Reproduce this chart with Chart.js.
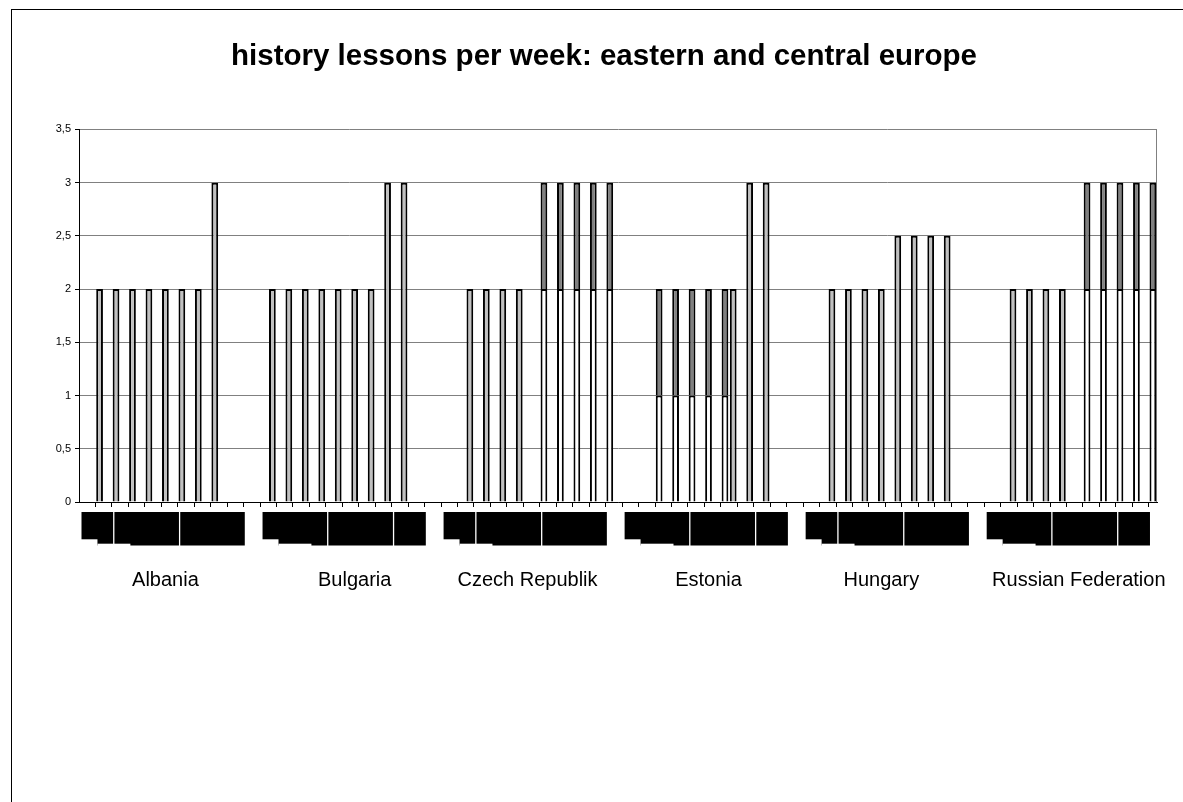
<!DOCTYPE html>
<html>
<head>
<meta charset="utf-8">
<title>history lessons per week: eastern and central europe</title>
<script src="https://cdn.jsdelivr.net/npm/chart.js@4.4.1/dist/chart.umd.min.js"></script>
<style>
  html, body { margin: 0; padding: 0; background: #fff; overflow: hidden; }
  #wrap { position: absolute; left: 0; top: 0; width: 1183px; height: 802px; }
  #frame { position: absolute; left: 11px; top: 9px; width: 1171px; height: 792px;
           border-left: 1px solid #000; border-top: 1px solid #000; pointer-events: none; }
</style>
</head>
<body>
<div id="wrap"><canvas id="chart"></canvas></div>
<div id="frame"></div>
<script>
const _ = null;

// Countries, each one gets 22 narrow columns on the x axis (last one 21)
const countries = ['Albania', 'Bulgaria', 'Czech Republik', 'Estonia', 'Hungary', 'Russian Federation'];

// lessons per week - plain (grey) columns
const albaniaGray  = [_,_,2,_,2,_,2,_,2,_,2,_,2,_,2,_,3,_,_,_,_,_];
const bulgariaGray = [_,2,_,2,_,2,_,2,_,2,_,2,_,2,_,3,_,3,_,_,_,_];
const czechGray    = [_,_,_,2,_,2,_,2,_,2,_,_,_,_,_,_,_,_,_,_,_,_];
const estoniaGray  = [_,_,_,_,_,_,_,_,_,_,_,_,_,2,_,3,_,3,_,_,_,_];
const hungaryGray  = [_,_,_,2,_,2,_,2,_,2,_,2.5,_,2.5,_,2.5,_,2.5,_,_,_,_];
const russiaGray   = [_,_,_,2,_,2,_,2,_,2,_,_,_,_,_,_,_,_,_,_,_];

// split columns - lower (white) part
const czechLower   = [_,_,_,_,_,_,_,_,_,_,_,_,2,_,2,_,2,_,2,_,2,_];
const estoniaLower = [_,_,_,_,1,_,1,_,1,_,1,_,1,_,_,_,_,_,_,_,_,_];
const russiaLower  = [_,_,_,_,_,_,_,_,_,_,_,_,2,_,2,_,2,_,2,_,2];

// split columns - upper (dark) part
const czechUpper   = [_,_,_,_,_,_,_,_,_,_,_,_,1,_,1,_,1,_,1,_,1,_];
const estoniaUpper = [_,_,_,_,1,_,1,_,1,_,1,_,1,_,_,_,_,_,_,_,_,_];
const russiaUpper  = [_,_,_,_,_,_,_,_,_,_,_,_,1,_,1,_,1,_,1,_,1];

const emptyGroup = new Array(22).fill(_);

const grayData  = [].concat(albaniaGray, bulgariaGray, czechGray, estoniaGray, hungaryGray, russiaGray);
const lowerData = [].concat(emptyGroup, emptyGroup, czechLower, estoniaLower, emptyGroup, russiaLower);
const upperData = [].concat(emptyGroup, emptyGroup, czechUpper, estoniaUpper, emptyGroup, russiaUpper);

const groupSizes = [22, 22, 22, 22, 22, 21];
const labels = [];
countries.forEach((c, i) => { for (let k = 0; k < groupSizes[i]; k++) labels.push(c); });

// column where each country name is written
const nameColumns = [10, 33, 54, 76, 97, 121];

// the level-2 labels below the axis came out as solid black blocks
const blockSpans = [
    [[0, 4], [4, 12], [12, 20]],
    [[0, 8], [8, 16], [16, 20]],
    [[0, 4], [4, 12], [12, 20]],
    [[0, 8], [8, 16], [16, 20]],
    [[0, 4], [4, 12], [12, 20]],
    [[0, 8], [8, 16], [16, 20]]
];

const FONT = "'Liberation Sans', Arial, sans-serif";

const plotExtras = {
    id: 'plotExtras',
    beforeDatasetsDraw(chart) {
        const a = chart.chartArea;
        const ctx = chart.ctx;
        ctx.save();
        ctx.strokeStyle = '#808080';
        ctx.lineWidth = 1;
        ctx.beginPath();
        ctx.moveTo(a.right - 0.5, a.top);
        ctx.lineTo(a.right - 0.5, a.bottom);
        ctx.stroke();
        ctx.restore();
    },
    afterDraw(chart) {
        const xs = chart.scales.x;
        const ctx = chart.ctx;
        const step = (xs.right - xs.left) / labels.length;
        const px = b => xs.left + b * step;
        const top = chart.chartArea.bottom + 10;
        const bottom = chart.chartArea.bottom + 43.5;
        ctx.save();
        let start = 0;
        blockSpans.forEach((spans, g) => {
            ctx.fillStyle = '#000';
            spans.forEach(([b0, b1]) => {
                const x0 = px(start + b0) + 2.5;
                const x1 = px(start + b1) + 1.2;
                ctx.fillRect(x0, top, x1 - x0, bottom - top);
            });
            // ragged lower edge at the start of each group
            ctx.fillStyle = '#fff';
            ctx.fillRect(px(start), top + 27.3, px(start + 2) + 2 - px(start), 8);
            ctx.fillRect(px(start + 2) + 2, top + 31.7, px(start + 6) - px(start + 2), 8);
            start += groupSizes[g];
        });
        ctx.restore();
    }
};

const barStyle = {
    borderColor: '#000',
    borderWidth: 2,
    barPercentage: 0.82,
    categoryPercentage: 1.0
};

new Chart(document.getElementById('chart'), {
    type: 'bar',
    data: {
        labels: labels,
        datasets: [
            Object.assign({ label: 'lower', data: lowerData, backgroundColor: '#ffffff' }, barStyle),
            Object.assign({ label: 'upper', data: upperData, backgroundColor: '#808080' }, barStyle),
            Object.assign({ label: 'lessons', data: grayData, backgroundColor: '#c0c0c0' }, barStyle)
        ]
    },
    options: {
        responsive: true,
        maintainAspectRatio: false,
        animation: false,
        layout: { padding: { left: 51, right: 26, top: 0, bottom: 200 } },
        plugins: {
            legend: { display: false },
            tooltip: { enabled: false },
            title: {
                display: true,
                text: 'history lessons per week: eastern and central europe',
                color: '#000',
                font: { family: FONT, size: 29.5, weight: 'bold' },
                padding: { top: 39, bottom: 55 }
            }
        },
        scales: {
            x: {
                stacked: true,
                afterFit: s => { s.height = 100; s.paddingLeft = 0; s.paddingRight = 0; },
                border: { color: '#000', width: 1 },
                grid: {
                    drawOnChartArea: false,
                    tickLength: 5,
                    tickColor: c => (c.index > 0 && c.index % 2 === 0) ? '#000' : 'rgba(0,0,0,0)'
                },
                ticks: {
                    autoSkip: false,
                    maxRotation: 0,
                    minRotation: 0,
                    padding: 61,
                    color: '#000',
                    font: { family: FONT, size: 20 },
                    callback: function (v, i) { return nameColumns.includes(i) ? this.getLabelForValue(v) : ''; }
                }
            },
            y: {
                stacked: true,
                min: 0,
                max: 3.5,
                afterFit: s => { s.width = 28; },
                border: { color: '#000', width: 1 },
                grid: { color: '#808080', tickColor: '#000', tickLength: 4 },
                ticks: {
                    stepSize: 0.5,
                    padding: 4,
                    color: '#000',
                    font: { family: FONT, size: 11 },
                    callback: v => String(v).replace('.', ',')
                }
            }
        }
    },
    plugins: [plotExtras]
});
</script>
</body>
</html>
